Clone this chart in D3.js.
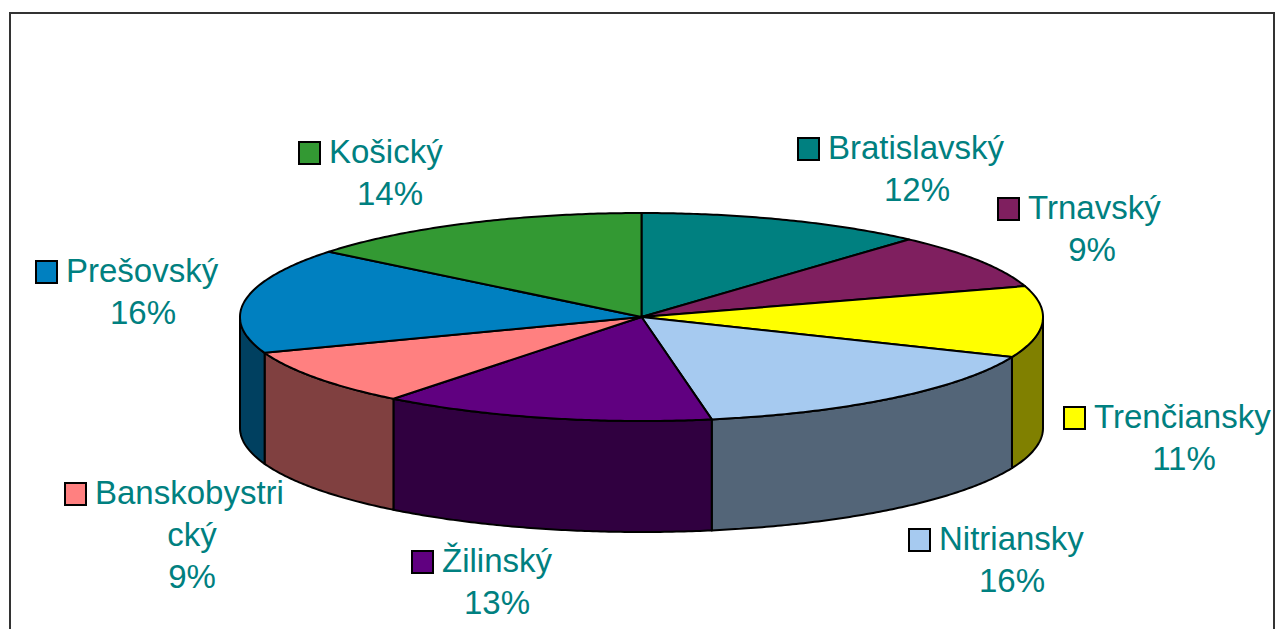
<!DOCTYPE html>
<html>
<head>
<meta charset="utf-8">
<script src="https://cdn.jsdelivr.net/npm/d3@7"></script>
<style>
  html, body { margin: 0; padding: 0; background: #fff; overflow: hidden; }
  text { font-family: "Liberation Sans", Arial, sans-serif; fill: #008080; }
</style>
</head>
<body>
<div id="chart"></div>
<script>
const regions = ["Bratislavský", "Trnavský", "Trenčiansky", "Nitriansky", "Žilinský", "Banskobystrický", "Prešovský", "Košický"];
const shares = [11.6, 8.6, 11.1, 15.9, 13.4, 8.8, 16.4, 14.2];
const percentLabels = ["12%", "9%", "11%", "16%", "13%", "9%", "16%", "14%"];
const topColors = ["#008080", "#7F1F5F", "#FFFF00", "#A6CAF0", "#600080", "#FF8080", "#0080C0", "#339933"];
const sideColors = ["#004040", "#400F30", "#808000", "#536578", "#300040", "#804040", "#004060", "#1A4D1A"];

// label layout: left of the key, baseline of first line, centre of the text block
const labelLayout = [
    {key: 798, y: 159, cx: 917, lines: ["Bratislavský"]},
    {key: 998, y: 219, cx: 1092, lines: ["Trnavský"]},
    {key: 1064, y: 428, cx: 1184, lines: ["Trenčiansky"]},
    {key: 909, y: 550, cx: 1012, lines: ["Nitriansky"]},
    {key: 412, y: 572, cx: 497, lines: ["Žilinský"]},
    {key: 65, y: 504, cx: 192, lines: ["Banskobystri", "cký"]},
    {key: 36, y: 282, cx: 143, lines: ["Prešovský"]},
    {key: 299, y: 163, cx: 390, lines: ["Košický"]}
];

const width = 1276, height = 629;
const cx = 641.5, cy = 317, rx = 401.5, ry = 104, depth = 111;
const fontSize = 33, lineHeight = 42;

const svg = d3.select("#chart").append("svg")
    .attr("width", width)
    .attr("height", height)
    .style("display", "block");

// chart frame, runs off the bottom of the picture
svg.append("rect")
    .attr("x", 10).attr("y", 13)
    .attr("width", 1264).attr("height", 640)
    .attr("fill", "#fff")
    .attr("stroke", "#333")
    .attr("stroke-width", 2);

const pie = d3.pie().sort(null).value(d => d)(shares);

// ellipse point for a clockwise angle measured from 12 o'clock
const px = t => cx + rx * Math.sin(t);
const py = t => cy - ry * Math.cos(t);
const line = d3.line();

function arcPoints(a, b, dy) {
    const n = Math.max(2, Math.ceil((b - a) / 0.01));
    return d3.range(n + 1).map(i => {
        const t = a + (b - a) * i / n;
        return [px(t), py(t) + dy];
    });
}

// side walls, only the front half of the rim is visible
const sides = pie.map((d, i) => ({
    a: Math.max(d.startAngle, Math.PI / 2),
    b: Math.min(d.endAngle, Math.PI * 3 / 2),
    color: sideColors[i]
})).filter(d => d.b > d.a);

svg.append("g").selectAll("path")
    .data(sides)
    .join("path")
    .attr("d", d => line(arcPoints(d.a, d.b, 0).concat(arcPoints(d.a, d.b, depth).reverse())) + "Z")
    .attr("fill", d => d.color)
    .attr("stroke", "#000")
    .attr("stroke-width", 2)
    .attr("stroke-linejoin", "round");

// top slices
svg.append("g").selectAll("path")
    .data(pie)
    .join("path")
    .attr("d", d => line([[cx, cy]].concat(arcPoints(d.startAngle, d.endAngle, 0))) + "Z")
    .attr("fill", (d, i) => topColors[i])
    .attr("stroke", "#000")
    .attr("stroke-width", 2)
    .attr("stroke-linejoin", "round");

// data labels with legend keys
const labels = svg.append("g").selectAll("g")
    .data(regions)
    .join("g");

labels.append("rect")
    .attr("x", (d, i) => labelLayout[i].key)
    .attr("y", (d, i) => labelLayout[i].y - 21)
    .attr("width", 21)
    .attr("height", 22)
    .attr("fill", (d, i) => topColors[i])
    .attr("stroke", "#000")
    .attr("stroke-width", 2);

labels.each(function (d, i) {
    const l = labelLayout[i];
    const rows = l.lines.concat([percentLabels[i]]);
    rows.forEach((row, r) => {
        d3.select(this).append("text")
            .attr("x", r === 0 ? l.key + 30 : l.cx)
            .attr("y", l.y + r * lineHeight)
            .attr("text-anchor", r === 0 ? "start" : "middle")
            .attr("font-size", fontSize)
            .text(row);
    });
});
</script>
</body>
</html>
